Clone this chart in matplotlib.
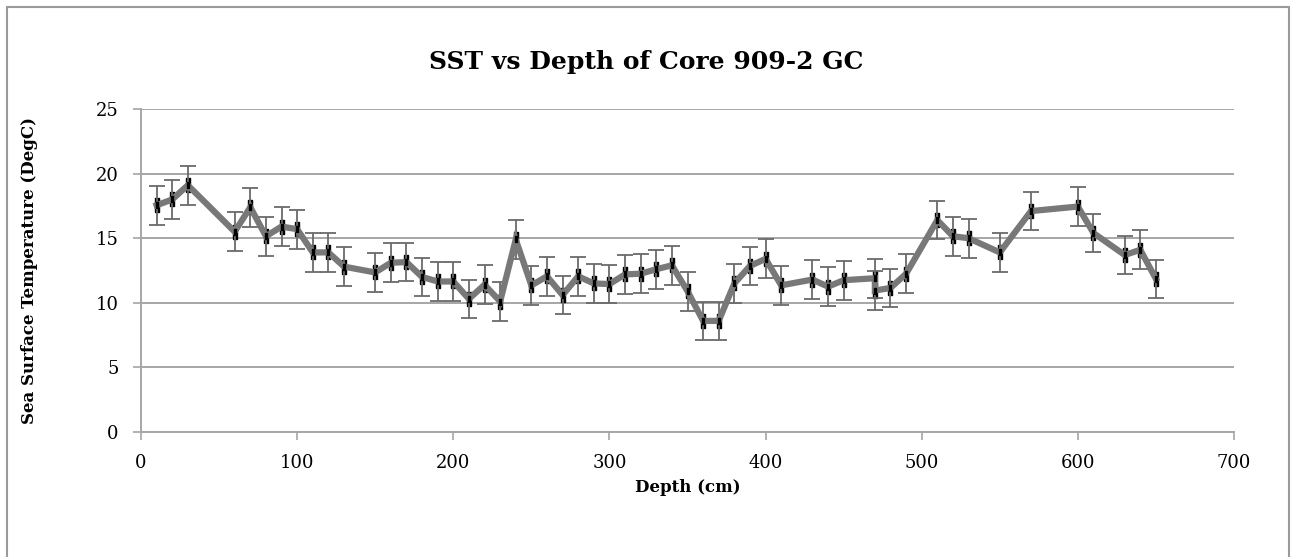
import matplotlib
matplotlib.use("Agg")
import matplotlib.pyplot as plt
from matplotlib.patches import Rectangle

depth = [10, 20, 30, 60, 70, 80, 90, 100, 110, 120, 130, 150, 160, 170, 180, 190,
         200, 210, 220, 230, 240, 250, 260, 270, 280, 290, 300, 310, 320, 330, 340,
         350, 360, 370, 380, 390, 400, 410, 430, 440, 450, 470, 470, 480, 490, 510,
         520, 530, 550, 570, 600, 610, 630, 640, 650]
sst = [17.55, 18.0, 19.1, 15.5, 17.4, 15.15, 15.9, 15.7, 13.9, 13.9, 12.8, 12.35,
       13.1, 13.15, 12.0, 11.65, 11.65, 10.3, 11.4, 10.1, 14.9, 11.35, 12.05, 10.6,
       12.05, 11.5, 11.45, 12.2, 12.25, 12.6, 12.9, 10.9, 8.6, 8.6, 11.5, 12.85,
       13.4, 11.35, 11.8, 11.25, 11.75, 11.9, 10.95, 11.15, 12.25, 16.4, 15.15,
       15.0, 13.9, 17.1, 17.45, 15.4, 13.7, 14.1, 11.85]
sst_err = 1.5

x_ticks = [0, 100, 200, 300, 400, 500, 600, 700]
y_ticks = [0, 5, 10, 15, 20, 25]

serif = ["DejaVu Serif"]

W, H = 1296, 557
fig = plt.figure(figsize=(W / 100, H / 100), dpi=100)
ax = fig.add_axes([141 / W, 1 - 432 / H, (1234 - 141) / W, (432 - 109) / H])

grid_c = "#a6a6a6"
ax.set_xlim(0, 700)
ax.set_ylim(0, 25)
ax.set_xticks(x_ticks)
ax.set_yticks(y_ticks)
ax.yaxis.grid(True, color=grid_c, linewidth=1.4)
ax.set_axisbelow(True)
for s in ["top", "right"]:
    ax.spines[s].set_visible(False)
for s in ["left", "bottom"]:
    ax.spines[s].set_color(grid_c)
    ax.spines[s].set_linewidth(1.4)
ax.tick_params(axis="both", direction="out", length=6, width=1.2, color=grid_c,
               labelsize=13)
ax.tick_params(axis="y", pad=10)
ax.tick_params(axis="x", pad=10)
for lab in ax.get_xticklabels() + ax.get_yticklabels():
    lab.set_fontfamily(serif)

rect_marker = [(-0.28, -1), (0.28, -1), (0.28, 1), (-0.28, 1), (-0.28, -1)]
ax.plot(depth, sst, linestyle="none", marker=rect_marker, markersize=10,
        color="black", zorder=2)
ax.errorbar(depth, sst, yerr=sst_err, fmt="none", ecolor="#6a6a6a",
            elinewidth=1.3, capsize=6, capthick=1.3, zorder=3)
ax.plot(depth, sst, color="#787878", linewidth=4.5, solid_joinstyle="miter",
        zorder=4)
ax.plot(depth, sst, linestyle="none", marker=rect_marker, markersize=4,
        color="black", zorder=5)

fig.text(646 / W, 1 - 62 / H, "SST vs Depth of Core 909-2 GC", fontsize=18,
         fontweight="bold", family=serif, ha="center", va="center")
ax.set_xlabel("Depth (cm)", fontsize=12, fontweight="bold", family=serif)
ax.xaxis.set_label_coords(0.5, (432 - 487) / 323)
ax.xaxis.label.set_va("center")
ax.set_ylabel("Sea Surface Temperature (DegC)", fontsize=12, fontweight="bold",
              family=serif)
ax.yaxis.set_label_coords((30 - 141) / 1093, 0.5)
ax.yaxis.label.set_va("center")

fig.patches.append(Rectangle((7 / W, -0.05), (1289 - 7) / W, 1 - 7 / H + 0.05,
                             transform=fig.transFigure, fill=False,
                             edgecolor="#9a9a9a", linewidth=1.5))

fig.savefig("out.png", dpi=100)
